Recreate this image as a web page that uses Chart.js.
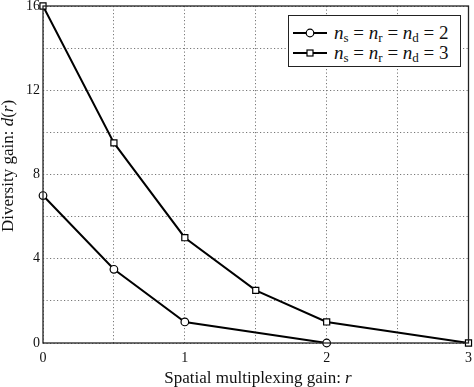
<!DOCTYPE html>
<html>
<head>
<meta charset="utf-8">
<script src="https://cdn.jsdelivr.net/npm/chart.js@4/dist/chart.umd.min.js"></script>
<style>
  html, body { margin: 0; padding: 0; background: #fff; }
  #wrap { position: relative; width: 474px; height: 387px; overflow: hidden; }
  #legend { position: absolute; left: 288px; top: 15px; width: 171px; height: 50px;
    border: 1.3px solid #222; background: #fff; font-family: "Liberation Serif", serif; color: #111; }
  .row { position: absolute; left: 0; height: 20px; width: 100%; }
  .row svg { position: absolute; left: 4px; top: 0; }
  .row .txt { position: absolute; left: 45px; top: 0; font-size: 19px; line-height: 20px; white-space: nowrap; }
  .row .txt sub { font-size: 13px; vertical-align: -3px; line-height: 0; font-style: normal; }
</style>
</head>
<body>
<div id="wrap">
  <canvas id="c" width="474" height="387"></canvas>
  <div id="legend"></div>
</div>
<script>
// ---- data ----
const legendLabels = ["2", "3"];            // n_s = n_r = n_d value
const rA = [0, 0.5, 1, 2];                  // spatial multiplexing gain r, n = 2
const dA = [7, 3.5, 1, 0];                  // diversity gain d(r), n = 2
const rB = [0, 0.5, 1, 1.5, 2, 3];          // r, n = 3
const dB = [16, 9.5, 5, 2.5, 1, 0];         // d(r), n = 3
const xTickLabels = [0, 1, 2, 3];
const yTickLabels = [0, 4, 8, 12, 16];
const xTitle = "Spatial multiplexing gain: ";
const yTitle = "Diversity gain: ";

const FONT = '"Liberation Serif", serif';

const framePlugin = {
  id: 'frame',
  afterDraw(chart) {
    const { ctx, chartArea: a } = chart;
    ctx.save();
    ctx.strokeStyle = '#222';
    ctx.lineWidth = 1.3;
    ctx.strokeRect(a.left, a.top, a.right - a.left, a.bottom - a.top);
    // axis titles
    ctx.fillStyle = '#111';
    ctx.textBaseline = 'alphabetic';
    // x title
    ctx.font = '17px ' + FONT;
    const wx1 = ctx.measureText(xTitle).width;
    ctx.font = 'italic 17px ' + FONT;
    const wx2 = ctx.measureText('r').width;
    let x0 = 258 - (wx1 + wx2) / 2;
    ctx.font = '17px ' + FONT;
    ctx.textAlign = 'left';
    ctx.fillText(xTitle, x0, 383);
    ctx.font = 'italic 17px ' + FONT;
    ctx.fillText('r', x0 + wx1, 383);
    // y title
    ctx.translate(13, 166);
    ctx.rotate(-Math.PI / 2);
    ctx.font = '17px ' + FONT;
    const p1 = yTitle, p2 = 'd', p3 = '(', p4 = 'r', p5 = ')';
    const w1 = ctx.measureText(p1).width, w3 = ctx.measureText(p3).width, w5 = ctx.measureText(p5).width;
    ctx.font = 'italic 17px ' + FONT;
    const w2 = ctx.measureText(p2).width, w4 = ctx.measureText(p4).width;
    let s = -(w1 + w2 + w3 + w4 + w5) / 2;
    ctx.font = '17px ' + FONT; ctx.fillText(p1, s, 0); s += w1;
    ctx.font = 'italic 17px ' + FONT; ctx.fillText(p2, s, 0); s += w2;
    ctx.font = '17px ' + FONT; ctx.fillText(p3, s, 0); s += w3;
    ctx.font = 'italic 17px ' + FONT; ctx.fillText(p4, s, 0); s += w4;
    ctx.font = '17px ' + FONT; ctx.fillText(p5, s, 0);
    ctx.restore();
  }
};

const ds = (xs, ys, style, r) => ({
  data: xs.map((x, i) => ({ x, y: ys[i] })),
  borderColor: '#000',
  borderWidth: 2,
  pointStyle: style,
  pointRadius: r,
  pointHoverRadius: r,
  pointBorderWidth: 1.2,
  pointBorderColor: '#000',
  pointBackgroundColor: '#fff',
  fill: false,
  tension: 0,
  clip: false
});

new Chart(document.getElementById('c'), {
  type: 'line',
  data: {
    datasets: [ds(rA, dA, 'circle', 3.8), ds(rB, dB, 'rect', 4.3)]
  },
  options: {
    responsive: false,
    animation: false,
    events: [],
    layout: { padding: { top: 6, right: 5, left: 0, bottom: 0 } },
    plugins: { legend: { display: false }, tooltip: { enabled: false } },
    scales: {
      x: {
        type: 'linear', min: 0, max: 3,
        ticks: {
          stepSize: 0.5, autoSkip: false, maxRotation: 0, padding: 7,
          color: '#111', font: { family: FONT, size: 14 },
          callback: v => xTickLabels.includes(v) ? String(v) : ''
        },
        grid: { color: '#777', lineWidth: 1, drawTicks: false },
        border: { display: false, dash: [1.2, 2.3] },
        afterFit(s) { s.height = 44; s.paddingLeft = 0; s.paddingRight = 0; }
      },
      y: {
        type: 'linear', min: 0, max: 16,
        ticks: {
          stepSize: 2, autoSkip: false, padding: 3,
          color: '#111', font: { family: FONT, size: 14 },
          callback: v => yTickLabels.includes(v) ? String(v) : ''
        },
        grid: { color: '#777', lineWidth: 1, drawTicks: false },
        border: { display: false, dash: [1.2, 2.3] },
        afterFit(s) { s.width = 43; s.paddingTop = 0; s.paddingBottom = 0; }
      }
    }
  },
  plugins: [framePlugin]
});

// HTML legend (real text with subscripts)
const leg = document.getElementById('legend');
legendLabels.forEach((val, i) => {
  const row = document.createElement('div');
  row.className = 'row';
  row.style.top = (7 + i * 20) + 'px';
  const marker = i === 0
    ? '<circle cx="17" cy="10" r="3.8" fill="#fff" stroke="#000" stroke-width="1.2"/>'
    : '<rect x="14" y="7" width="6" height="6" fill="#fff" stroke="#000" stroke-width="1.2"/>';
  row.innerHTML =
    '<svg width="36" height="20"><line x1="0" y1="10" x2="34" y2="10" stroke="#000" stroke-width="2"/>' + marker + '</svg>' +
    '<span class="txt"><i>n</i><sub>s</sub> = <i>n</i><sub>r</sub> = <i>n</i><sub>d</sub> = ' + val + '</span>';
  leg.appendChild(row);
});
</script>
</body>
</html>
